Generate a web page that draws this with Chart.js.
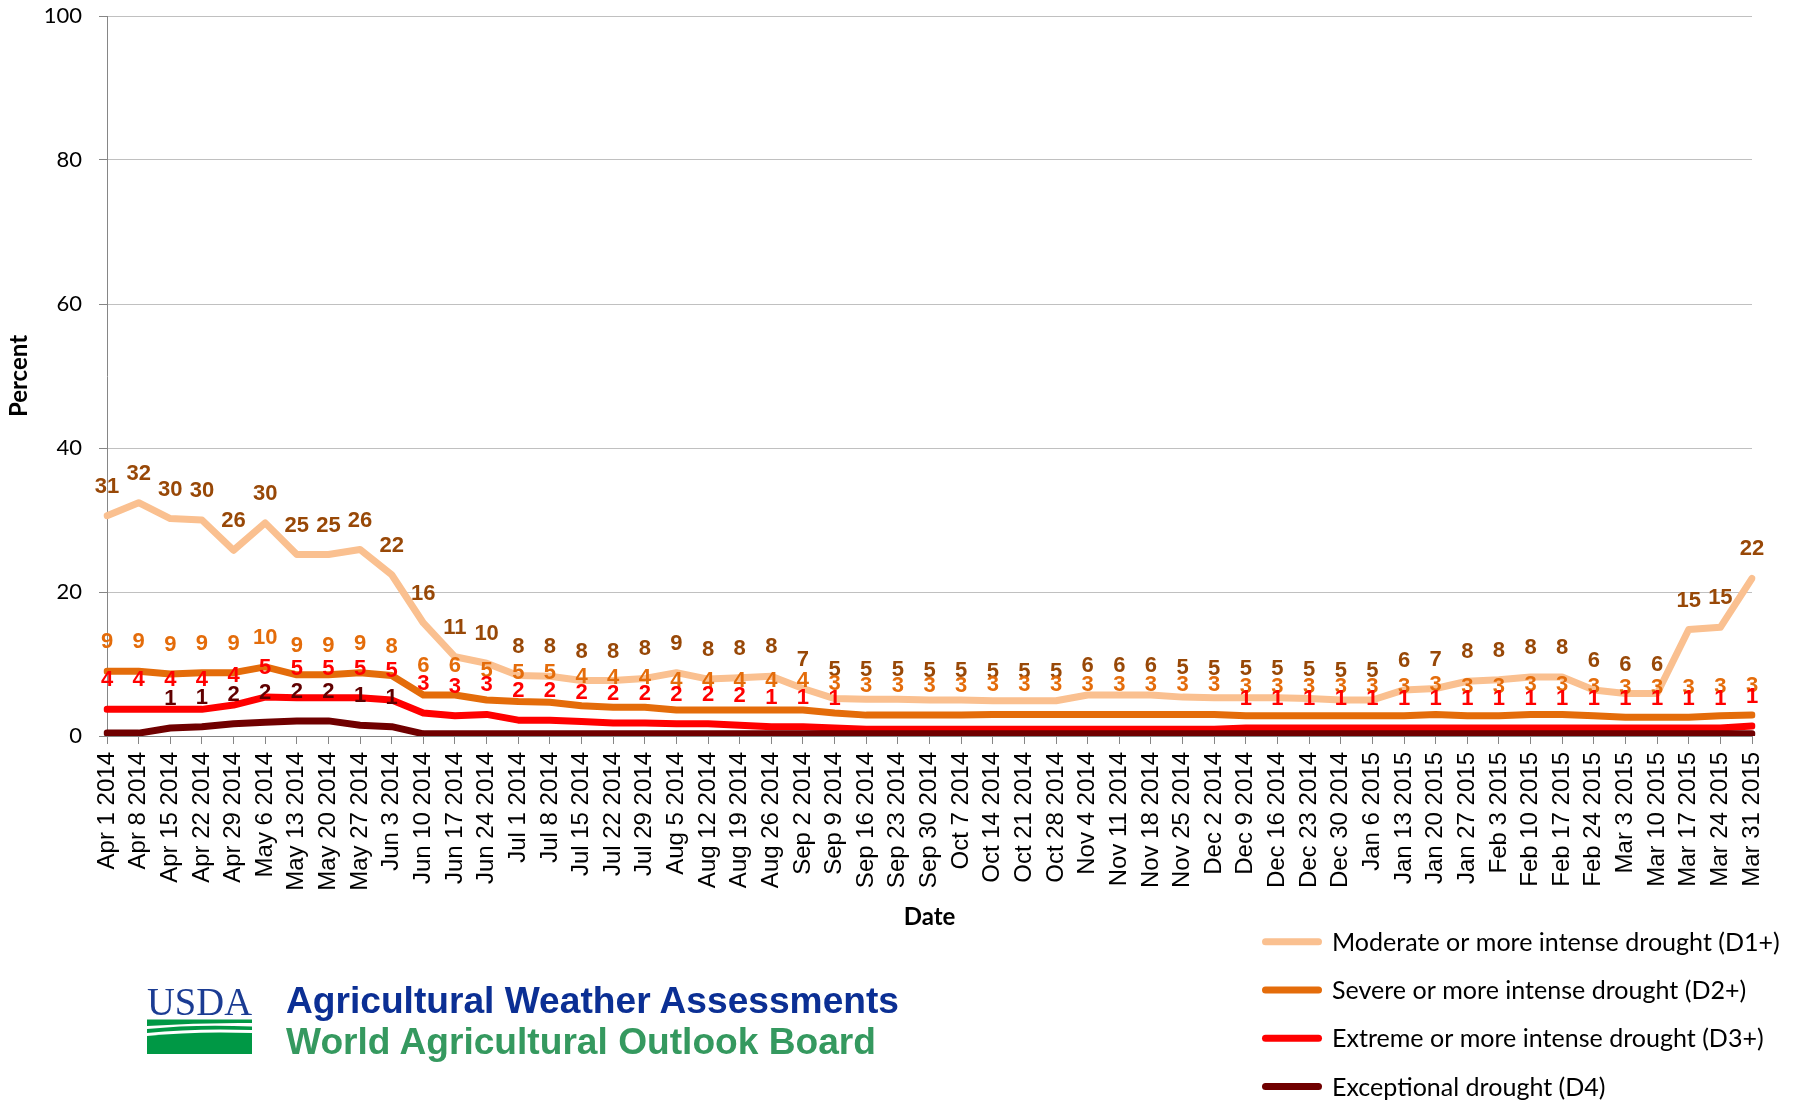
<!DOCTYPE html>
<html>
<head>
<meta charset="utf-8">
<script src="https://cdn.jsdelivr.net/npm/chart.js@4.4.1/dist/chart.umd.min.js"></script>
<style>
html,body{margin:0;padding:0;background:#fff;}
#wrap{position:relative;width:1796px;height:1101px;overflow:hidden;}
#c{position:absolute;left:0;top:0;}
#logo{position:absolute;left:140px;top:975px;}
</style>
</head>
<body>
<div id="wrap">
<canvas id="c" width="1796" height="1101"></canvas>
<svg id="logo" width="780" height="100" viewBox="0 0 780 100">
  <text x="7" y="40" font-family="Liberation Serif" font-size="41" fill="#1b3c93" textLength="105" lengthAdjust="spacingAndGlyphs">USDA</text>
  <path d="M7,44.5 H112 V48 Q60,47.5 7,51 Z" fill="#009845"/>
  <path d="M7,54 Q55,49 112,51.5 V55 Q55,53 7,58 Z" fill="#009845"/>
  <path d="M7,61 Q55,56 112,58 V79 H7 Z" fill="#009845"/>
  <text x="146" y="38" font-family="Liberation Sans" font-weight="bold" font-size="37" fill="#0b2f94" textLength="613" lengthAdjust="spacingAndGlyphs">Agricultural Weather Assessments</text>
  <text x="146" y="79" font-family="Liberation Sans" font-weight="bold" font-size="37" fill="#35995f" textLength="590" lengthAdjust="spacingAndGlyphs">World Agricultural Outlook Board</text>
</svg>
</div>
<script>
// ---- Data ----
const categories = [
  "Apr 1 2014","Apr 8 2014","Apr 15 2014","Apr 22 2014","Apr 29 2014",
  "May 6 2014","May 13 2014","May 20 2014","May 27 2014",
  "Jun 3 2014","Jun 10 2014","Jun 17 2014","Jun 24 2014",
  "Jul 1 2014","Jul 8 2014","Jul 15 2014","Jul 22 2014","Jul 29 2014",
  "Aug 5 2014","Aug 12 2014","Aug 19 2014","Aug 26 2014",
  "Sep 2 2014","Sep 9 2014","Sep 16 2014","Sep 23 2014","Sep 30 2014",
  "Oct 7 2014","Oct 14 2014","Oct 21 2014","Oct 28 2014",
  "Nov 4 2014","Nov 11 2014","Nov 18 2014","Nov 25 2014",
  "Dec 2 2014","Dec 9 2014","Dec 16 2014","Dec 23 2014","Dec 30 2014",
  "Jan 6 2015","Jan 13 2015","Jan 20 2015","Jan 27 2015",
  "Feb 3 2015","Feb 10 2015","Feb 17 2015","Feb 24 2015",
  "Mar 3 2015","Mar 10 2015","Mar 17 2015","Mar 24 2015","Mar 31 2015"
];

const seriesNames = [
  "Moderate or more intense drought (D1+)",
  "Severe or more intense drought (D2+)",
  "Extreme or more intense drought (D3+)",
  "Exceptional drought (D4)"
];

const d1Values = [30.6,32.4,30.2,30.0,25.8,29.6,25.2,25.2,25.9,22.4,15.7,11.0,10.1,
  8.4,8.3,7.7,7.7,8.0,8.8,7.9,8.1,8.3,6.6,5.2,5.1,5.1,5.0,5.0,4.9,4.9,4.9,
  5.7,5.7,5.7,5.4,5.3,5.3,5.3,5.2,5.0,5.0,6.4,6.6,7.6,7.8,8.2,8.2,6.4,5.9,5.9,14.8,15.1,21.9];
const d2Values = [9.0,9.0,8.6,8.8,8.8,9.6,8.5,8.5,8.8,8.4,5.7,5.7,5.0,
  4.8,4.7,4.2,4.0,4.0,3.6,3.6,3.6,3.6,3.6,3.2,2.9,2.9,2.9,2.9,3.0,3.0,3.0,
  3.0,3.0,3.0,3.0,3.0,2.8,2.8,2.8,2.8,2.8,2.8,3.0,2.8,2.8,3.0,3.0,2.8,2.6,2.6,2.6,2.8,2.9];
const d3Values = [3.7,3.7,3.7,3.7,4.3,5.4,5.3,5.3,5.3,5.0,3.2,2.8,3.0,
  2.2,2.2,2.0,1.8,1.8,1.7,1.7,1.5,1.3,1.3,1.1,0.95,0.95,0.95,0.95,0.95,0.95,0.95,
  0.95,0.95,0.95,0.95,0.95,1.1,1.1,1.1,1.1,1.1,1.1,1.1,1.1,1.1,1.1,1.1,1.1,1.1,1.1,1.1,1.1,1.4];
const d4Values = [0.4,0.4,1.1,1.3,1.7,1.9,2.1,2.1,1.5,1.3,0.3,0.3,0.3,
  0.3,0.3,0.3,0.3,0.3,0.3,0.3,0.3,0.3,0.3,0.3,0.3,0.3,0.3,0.3,0.3,0.3,0.3,
  0.3,0.3,0.3,0.3,0.3,0.3,0.3,0.3,0.3,0.3,0.3,0.3,0.3,0.3,0.3,0.3,0.3,0.3,0.3,0.3,0.3,0.3];

// data labels as printed on the chart (null = no label shown)
const d1Labels = [31,32,30,30,26,30,25,25,26,22,16,11,10,
  8,8,8,8,8,9,8,8,8,7,5,5,5,5,5,5,5,5,
  6,6,6,5,5,5,5,5,5,5,6,7,8,8,8,8,6,6,6,15,15,22];
const d2Labels = [9,9,9,9,9,10,9,9,9,8,6,6,5,
  5,5,4,4,4,4,4,4,4,4,3,3,3,3,3,3,3,3,
  3,3,3,3,3,3,3,3,3,3,3,3,3,3,3,3,3,3,3,3,3,3];
const d3Labels = [4,4,4,4,4,5,5,5,5,5,3,3,3,
  2,2,2,2,2,2,2,2,1,1,1,null,null,null,null,null,null,null,
  null,null,null,null,null,1,1,1,1,1,1,1,1,1,1,1,1,1,1,1,1,1];
const d4Labels = [null,null,1,1,2,2,2,2,1,1,null,null,null,
  null,null,null,null,null,null,null,null,null,null,null,null,null,null,null,null,null,null,
  null,null,null,null,null,null,null,null,null,null,null,null,null,null,null,null,null,null,null,null,null,null];

const yTicks = [0,20,40,60,80,100];

// ---- Plugins ----
const valueLabelPlugin = {
  id: 'valueLabels',
  afterDatasetsDraw(chart) {
    const ctx = chart.ctx;
    ctx.save();
    ctx.font = 'bold 22px "Liberation Sans", Arial, sans-serif';
    ctx.textAlign = 'center';
    ctx.textBaseline = 'middle';
    chart.data.datasets.forEach((ds, i) => {
      const meta = chart.getDatasetMeta(i);
      ctx.fillStyle = ds.labelColor;
      meta.data.forEach((pt, j) => {
        const t = ds.pointLabels[j];
        if (t === null || t === undefined) return;
        ctx.fillText(String(t), pt.x, pt.y - 29);
      });
    });
    ctx.restore();
  }
};

const sideLegendPlugin = {
  id: 'sideLegend',
  afterDraw(chart) {
    const ctx = chart.ctx;
    ctx.save();
    let size = 22;
    ctx.font = size + 'px Lato';
    const w = ctx.measureText(chart.data.datasets[0].label).width;
    size = size * 448 / w;
    ctx.font = size + 'px Lato';
    chart.data.datasets.forEach((ds, i) => {
      const y = 941.7 + i * 48.3;
      ctx.strokeStyle = ds.borderColor;
      ctx.lineWidth = 7;
      ctx.lineCap = 'round';
      ctx.beginPath();
      ctx.moveTo(1265.5, y);
      ctx.lineTo(1318.5, y);
      ctx.stroke();
      ctx.fillStyle = '#000';
      ctx.textAlign = 'left';
      ctx.textBaseline = 'middle';
      ctx.fillText(ds.label, 1332, y + 1);
    });
    ctx.restore();
  }
};

// ---- Chart ----
function makeDs(label, data, color, labelColor, labels, order) {
  return {
    label, data,
    borderColor: color,
    backgroundColor: color,
    borderWidth: 7,
    borderJoinStyle: 'round',
    borderCapStyle: 'round',
    pointRadius: 0,
    pointHoverRadius: 0,
    tension: 0,
    fill: false,
    order,
    labelColor,
    pointLabels: labels
  };
}

new Chart(document.getElementById('c'), {
  type: 'line',
  data: {
    labels: categories,
    datasets: [
      makeDs(seriesNames[0], d1Values, '#FAC090', '#984807', d1Labels, 3),
      makeDs(seriesNames[1], d2Values, '#E46C0A', '#E46C0A', d2Labels, 2),
      makeDs(seriesNames[2], d3Values, '#FF0000', '#FF0000', d3Labels, 1),
      makeDs(seriesNames[3], d4Values, '#700000', '#600000', d4Labels, 0)
    ]
  },
  options: {
    responsive: false,
    animation: false,
    devicePixelRatio: 1,
    events: [],
    layout: { padding: { left: 0, top: 16, right: 44, bottom: 165 } },
    plugins: {
      legend: { display: false },
      tooltip: { enabled: false },
      title: { display: false }
    },
    scales: {
      x: {
        offset: false,
        ticks: {
          autoSkip: false, maxRotation: 90, minRotation: 90,
          font: { family: '"Liberation Sans", Arial, sans-serif', size: 24 },
          color: '#000', padding: 8
        },
        grid: { drawOnChartArea: false, tickLength: 8, color: '#868686', tickColor: '#868686', lineWidth: 1 },
        border: { color: '#868686', width: 1 },
        title: {
          display: true, text: 'Date', color: '#000',
          font: { family: 'Lato', size: 24, weight: 'bold' },
          padding: { top: 0, bottom: 4 }
        },
        afterFit(s) { s.height = 200; }
      },
      y: {
        min: 0, max: 100,
        afterBuildTicks(s) { s.ticks = yTicks.map(v => ({ value: v })); },
        ticks: {
          font: { family: 'Lato', size: 22 },
          color: '#000', padding: 17
        },
        grid: { color: '#C0C0C0', lineWidth: 1, tickLength: 8, tickColor: '#868686' },
        border: { color: '#868686', width: 1 },
        title: {
          display: true, text: 'Percent', color: '#000',
          font: { family: 'Lato', size: 24, weight: 'bold' },
          padding: { top: 5, bottom: 0 }
        },
        afterFit(s) { s.width = 107; s.paddingTop = 0; s.paddingBottom = 0; }
      }
    }
  },
  plugins: [valueLabelPlugin, sideLegendPlugin]
});
</script>
</body>
</html>
